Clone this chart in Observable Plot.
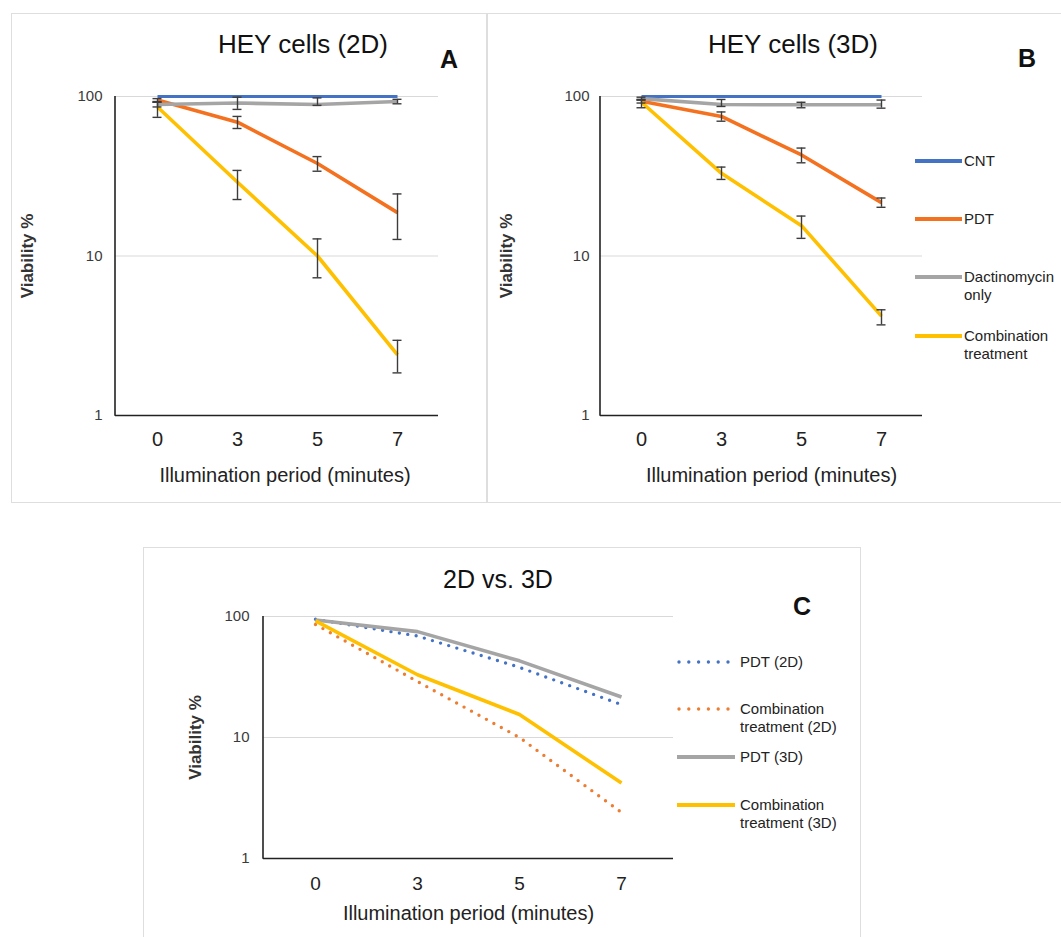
<!DOCTYPE html>
<html><head><meta charset="utf-8">
<script src="https://cdn.jsdelivr.net/npm/d3@7"></script>
<script src="https://cdn.jsdelivr.net/npm/@observablehq/plot@0.6"></script>
<style>
body{margin:0;background:#fff;font-family:"Liberation Sans",Arial,Helvetica,sans-serif;}
#root{position:relative;width:1061px;height:937px;overflow:hidden;background:#fff;}
.box{position:absolute;border:1.5px solid #dedede;box-sizing:border-box;}
.title{position:absolute;transform:translateX(-50%);color:#111;white-space:nowrap;line-height:1;}
.letter{position:absolute;transform:translateX(-50%);font-size:25px;font-weight:bold;line-height:1;color:#111;}
.plotwrap{position:absolute;}
.leg{position:absolute;font-size:15px;line-height:18px;color:#222;white-space:nowrap;}
.sw{position:absolute;}
</style></head><body><div id="root"></div><script>
// ---------- data ----------
const minutes = ["0", "3", "5", "7"];
const yTicks = [1, 10, 100];

// Panel A: HEY cells (2D)
const cnt2D  = [100, 100, 100, 100];
const pdt2D  = [95, 69, 38, 18.7];
const pdt2DLo = [93, 63, 34, 12.7];
const pdt2DHi = [97, 75, 42, 24.5];
const dact2D  = [89, 91, 89, 93];
const dact2DLo = [86, 83, 88, 90];
const dact2DHi = [92, 99, 98, 96];
const comb2D  = [86, 29, 10, 2.4];
const comb2DLo = [74, 22.6, 7.3, 1.85];
const comb2DHi = [92, 34.4, 12.8, 2.96];

// Panel B: HEY cells (3D)
const cnt3D  = [100, 100, 100, 100];
const pdt3D  = [93.5, 75, 43, 21.6];
const pdt3DLo = [91, 70, 38.4, 20.2];
const pdt3DHi = [96, 80, 47.5, 23.1];
const dact3D  = [97, 89, 88.7, 88.7];
const dact3DLo = [95, 86.6, 85, 84.5];
const dact3DHi = [99, 95.8, 92, 95];
const comb3D  = [92, 33, 15.5, 4.2];
const comb3DLo = [85, 30.2, 12.9, 3.7];
const comb3DHi = [95, 36.1, 17.8, 4.6];

const seriesAB = ["CNT", "PDT", "Dactinomycin only", "Combination treatment"];
const colorsAB = ["#4472C4", "#F4711F", "#A5A5A5", "#FFC000"];
const seriesC = ["PDT (2D)", "Combination treatment (2D)", "PDT (3D)", "Combination treatment (3D)"];
const colorsC = ["#4472C4", "#ED7D31", "#A5A5A5", "#FFC000"];

const FONT = '"Liberation Sans", Arial, Helvetica, sans-serif';
const root = document.getElementById("root");

function el(cls, style, html) {
  const d = document.createElement("div");
  d.className = cls;
  Object.assign(d.style, style);
  if (html != null) d.innerHTML = html;
  root.appendChild(d);
  return d;
}

function rows(vals, lo, hi) {
  return minutes.map((t, i) => ({t, v: vals[i], lo: lo ? lo[i] : null, hi: hi ? hi[i] : null}));
}

function panel(cfg) {
  const {width, height, mL, mR, mT, mB} = cfg;
  const marks = [];
  marks.push(Plot.gridY([10, 100], {stroke: "#d9d9d9", strokeOpacity: 1, strokeWidth: 1}));
  marks.push(Plot.axisY(yTicks, {tickSize: 0, tickPadding: cfg.yPad, tickFormat: d => String(d),
    fontSize: 15, fill: "#3a3a3a", label: null}));
  marks.push(Plot.axisX({tickSize: 0, tickPadding: cfg.xPad, fontSize: cfg.xTickFont, fill: "#222", label: null}));
  for (const s of cfg.series) {
    marks.push(Plot.line(rows(s.v), {x: "t", y: "v", stroke: s.color, strokeWidth: s.width || 3.6,
      strokeDasharray: s.dash, strokeLinecap: s.dash ? "round" : "butt", strokeLinejoin: "round"}));
  }
  for (const s of cfg.series) {
    if (!s.lo) continue;
    const r = rows(s.v, s.lo, s.hi);
    marks.push(Plot.ruleX(r, {x: "t", y1: "lo", y2: "hi", stroke: "#3c3c3c", strokeWidth: 1.4}));
    marks.push(Plot.ruleY(r, {x1: "t", x2: "t", y: "lo", insetLeft: -4.5, insetRight: -4.5, stroke: "#3c3c3c", strokeWidth: 1.4}));
    marks.push(Plot.ruleY(r, {x1: "t", x2: "t", y: "hi", insetLeft: -4.5, insetRight: -4.5, stroke: "#3c3c3c", strokeWidth: 1.4}));
  }
  // axis lines
  marks.push(Plot.ruleY([1], {stroke: "#222", strokeWidth: 1.6}));
  marks.push(() => {
    const l = document.createElementNS("http://www.w3.org/2000/svg", "line");
    l.setAttribute("x1", mL); l.setAttribute("x2", mL);
    l.setAttribute("y1", mT); l.setAttribute("y2", height - mB + 0.8);
    l.setAttribute("stroke", "#222"); l.setAttribute("stroke-width", 1.6);
    return l;
  });
  marks.push(Plot.text(["Illumination period (minutes)"], {text: d => d, frameAnchor: "bottom",
    dy: cfg.xTitleDy, dx: cfg.xTitleDx || 0, fontSize: cfg.xTitleFont, lineAnchor: "middle", fill: "#222"}));
  marks.push(Plot.text(["Viability %"], {text: d => d, frameAnchor: "left", dx: cfg.yTitleDx,
    rotate: -90, fontSize: 17, fontWeight: "bold", lineAnchor: "middle", textAnchor: "middle", fill: "#333"}));
  const svg = Plot.plot({
    width, height, marginLeft: mL, marginRight: mR, marginTop: mT, marginBottom: mB,
    style: {fontFamily: FONT, background: "transparent", overflow: "visible"},
    x: {type: "point", domain: minutes, padding: 0.5},
    y: {type: "log", domain: [1, 100]},
    marks
  });
  // enforce tick-label sizes
  d3.select(svg).selectAll('g[aria-label="x-axis tick label"]')
    .attr("font-size", cfg.xTickFont).style("font-size", cfg.xTickFont + "px");
  d3.select(svg).selectAll('g[aria-label="y-axis tick label"]')
    .attr("font-size", 15).style("font-size", "15px");
  const w = el("plotwrap", {left: cfg.left + "px", top: cfg.top + "px"});
  w.appendChild(svg);
}

// ---------- boxes ----------
el("box", {left: "11px", top: "13px", width: "477px", height: "490px"});
el("box", {left: "486px", top: "13px", width: "600px", height: "490px"});
el("box", {left: "143px", top: "547px", width: "718px", height: "420px"});

// ---------- titles ----------
el("title", {left: "303px", top: "31px", fontSize: "26px"}, "HEY cells (2D)");
el("title", {left: "793px", top: "31px", fontSize: "26px"}, "HEY cells (3D)");
el("title", {left: "498px", top: "567px", fontSize: "25px"}, "2D vs. 3D");
el("letter", {left: "449px", top: "47px"}, "A");
el("letter", {left: "1027px", top: "46px"}, "B");
el("letter", {left: "802px", top: "594px"}, "C");

// ---------- panels ----------
panel({left: 11, top: 70, width: 476, height: 430, mL: 104, mR: 49, mT: 26, mB: 85,
  yPad: 13, xPad: 16, xTickFont: 20, xTitleFont: 20, xTitleDy: 60, xTitleDx: 8, yTitleDx: -88,
  series: [
    {v: cnt2D, color: colorsAB[0], width: 3.2},
    {v: pdt2D, lo: pdt2DLo, hi: pdt2DHi, color: colorsAB[1]},
    {v: dact2D, lo: dact2DLo, hi: dact2DHi, color: colorsAB[2]},
    {v: comb2D, lo: comb2DLo, hi: comb2DHi, color: colorsAB[3]}
  ]});

panel({left: 495, top: 70, width: 500, height: 430, mL: 105, mR: 73, mT: 26, mB: 85,
  yPad: 11, xPad: 16, xTickFont: 20, xTitleFont: 20, xTitleDy: 60, xTitleDx: 10, yTitleDx: -94,
  series: [
    {v: cnt3D, color: colorsAB[0], width: 3.2},
    {v: pdt3D, lo: pdt3DLo, hi: pdt3DHi, color: colorsAB[1]},
    {v: dact3D, lo: dact3DLo, hi: dact3DHi, color: colorsAB[2]},
    {v: comb3D, lo: comb3DLo, hi: comb3DHi, color: colorsAB[3]}
  ]});

panel({left: 150, top: 590, width: 600, height: 347, mL: 113, mR: 77, mT: 26, mB: 79,
  yPad: 14, xPad: 18, xTickFont: 19, xTitleFont: 20, xTitleDy: 55, xTitleDx: 0, yTitleDx: -68,
  series: [
    {v: pdt2D, color: colorsC[0], width: 3.4, dash: "0 8.5"},
    {v: comb2D, color: colorsC[1], width: 3.4, dash: "0 8.5"},
    {v: pdt3D, color: colorsC[2], width: 3.6},
    {v: comb3D, color: colorsC[3], width: 3.6}
  ]});

// ---------- legends ----------
function swatch(x1, x2, cy, color, dash, w) {
  const s = el("sw", {left: x1 + "px", top: (cy - 5) + "px"});
  const len = x2 - x1;
  s.innerHTML = `<svg width="${len + 4}" height="10" style="display:block"><line x1="${dash ? 2 : 0}" x2="${len}" y1="5" y2="5" stroke="${color}" stroke-width="${w}" ${dash ? `stroke-dasharray="${dash}" stroke-linecap="round"` : ""}/></svg>`;
}
const legB = [
  {lab: "CNT", cy: 161},
  {lab: "PDT", cy: 219},
  {lab: "Dactinomycin<br>only", cy: 277},
  {lab: "Combination<br>treatment", cy: 336}
];
legB.forEach((d, i) => {
  swatch(915, 962, d.cy, colorsAB[i], null, 4);
  el("leg", {left: "964px", top: (d.cy - 9) + "px"}, d.lab);
});
const legC = [
  {lab: "PDT (2D)", cy: 662, dash: "0 9.8"},
  {lab: "Combination<br>treatment (2D)", cy: 709, dash: "0 9.8"},
  {lab: "PDT (3D)", cy: 757},
  {lab: "Combination<br>treatment (3D)", cy: 805}
];
legC.forEach((d, i) => {
  swatch(677, 735, d.cy, colorsC[i], d.dash, d.dash ? 3.4 : 4);
  el("leg", {left: "740px", top: (d.cy - 9) + "px"}, d.lab);
});
</script></body></html>
